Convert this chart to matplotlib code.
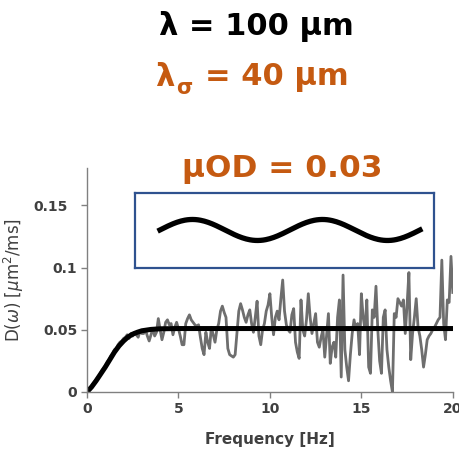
import matplotlib.pyplot as plt
import numpy as np
from matplotlib.transforms import ScaledTranslation

plt.rcParams['font.family'] = ['DejaVu Sans']

ORANGE = '#C55A11'
GREY_TXT = '#404040'

wavelength_um = 100
wavelength_sigma_um = 40
mu_od = 0.03

# measured D(w), one value every 0.1 Hz from 0.1 to 20 Hz
d_meas = [
    0.001, 0.003, 0.006, 0.008, 0.010, 0.012, 0.014, 0.017, 0.019, 0.021,
    0.024, 0.026, 0.029, 0.031, 0.034, 0.035, 0.038, 0.040, 0.041, 0.043,
    0.044, 0.046, 0.043, 0.047, 0.045, 0.048, 0.046, 0.044, 0.049, 0.047,
    0.047, 0.050, 0.045, 0.041, 0.046, 0.051, 0.045, 0.048, 0.059, 0.050,
    0.042, 0.048, 0.056, 0.058, 0.054, 0.055, 0.046, 0.052, 0.056, 0.051,
    0.045, 0.038, 0.038, 0.055, 0.059, 0.062, 0.058, 0.056, 0.054, 0.053,
    0.054, 0.044, 0.035, 0.030, 0.048, 0.040, 0.035, 0.052, 0.046, 0.040,
    0.050, 0.055, 0.065, 0.069, 0.064, 0.060, 0.035, 0.030, 0.029, 0.028,
    0.030, 0.048, 0.065, 0.071, 0.066, 0.060, 0.056, 0.062, 0.066, 0.055,
    0.048, 0.060, 0.073, 0.045, 0.038, 0.050, 0.055, 0.065, 0.070, 0.079,
    0.060, 0.046, 0.060, 0.065, 0.058, 0.075, 0.090, 0.065, 0.054, 0.050,
    0.048, 0.062, 0.067, 0.040, 0.032, 0.027, 0.074, 0.050, 0.045, 0.058,
    0.079, 0.060, 0.047, 0.055, 0.063, 0.040, 0.036, 0.044, 0.050, 0.028,
    0.045, 0.063, 0.023, 0.036, 0.040, 0.028, 0.060, 0.074, 0.012, 0.094,
    0.034, 0.020, 0.009, 0.030, 0.047, 0.058, 0.050, 0.055, 0.030, 0.079,
    0.060, 0.050, 0.074, 0.020, 0.015, 0.066, 0.060, 0.085, 0.050, 0.025,
    0.015, 0.060, 0.066, 0.034, 0.020, 0.009, 0.000, 0.063, 0.060, 0.075,
    0.072, 0.069, 0.074, 0.047, 0.070, 0.096, 0.026, 0.047, 0.060, 0.075,
    0.052, 0.045, 0.034, 0.020, 0.030, 0.042, 0.045, 0.047, 0.050, 0.052,
    0.055, 0.058, 0.060, 0.106, 0.055, 0.042, 0.074, 0.072, 0.109, 0.080,
]
freq = np.linspace(0.1, 20.0, len(d_meas))

# fitted curve
fit_freq = [0, 0.25, 0.5, 0.75, 1.0, 1.25, 1.5, 1.75, 2.0, 2.25, 2.5, 2.75, 3.0, 3.5, 4.0, 5.0, 20]
fit_d = [0, 0.004, 0.009, 0.0145, 0.020, 0.026, 0.032, 0.037, 0.041, 0.0443, 0.0465,
         0.048, 0.0492, 0.0503, 0.0508, 0.051, 0.051]

yticks = [0, 0.05, 0.1, 0.15]
ytick_labels = ['0', '0.05', '0.1', '0.15']
xticks = [0, 5, 10, 15, 20]

fig = plt.figure(figsize=(4.59, 4.53), dpi=100)
ax = fig.add_axes([0.1895, 0.1347, 0.797, 0.4943])

ax.plot(np.concatenate([[0], freq]), np.concatenate([[0], d_meas]), color='#6e6e6e', lw=2.0)
ax.plot(fit_freq, fit_d, color='black', lw=3.6, solid_capstyle='round')

ax.set_xlim(0, 20)
ax.set_ylim(0, 0.18)
ax.set_xticks(xticks)
ax.set_xticklabels([str(t) for t in xticks])
ax.set_yticks(yticks)
ax.set_yticklabels(ytick_labels)
for s in ['top', 'right']:
    ax.spines[s].set_visible(False)
for s in ['left', 'bottom']:
    ax.spines[s].set_color('#808080')
    ax.spines[s].set_linewidth(1.0)
ax.tick_params(direction='out', length=4, width=1, color='#808080',
               labelsize=10, labelcolor=GREY_TXT, pad=3)
for lab in ax.get_xticklabels() + ax.get_yticklabels():
    lab.set_fontweight('bold')
# top label sits a bit further left in the original
top_lab = ax.get_yticklabels()[-1]
top_lab.set_transform(top_lab.get_transform() + ScaledTranslation(-10 / 100, 0, fig.dpi_scale_trans))

ax.set_xlabel('Frequency [Hz]', fontsize=11, fontweight='bold', color=GREY_TXT, labelpad=12)
ax.set_ylabel(r'D($\omega$) [$\mu$m$^2$/ms]', fontsize=12, color=GREY_TXT, labelpad=5)

# headings
fig.text(256 / 459, 1 - 27 / 453, f'λ = {wavelength_um} μm', fontsize=22, fontweight='bold',
         ha='center', va='center', color='black')
fig.text(155 / 459, 1 - 78 / 453, 'λ', fontsize=22, fontweight='bold',
         ha='left', va='center', color=ORANGE)
fig.text(176 / 459, 1 - 88 / 453, 'σ', fontsize=15, fontweight='bold',
         ha='left', va='center', color=ORANGE)
fig.text(205 / 459, 1 - 78 / 453, f'= {wavelength_sigma_um} μm', fontsize=22, fontweight='bold',
         ha='left', va='center', color=ORANGE)
fig.text(282 / 459, 1 - 170 / 453, f'μOD = {mu_od}', fontsize=22.5, fontweight='bold',
         ha='center', va='center', color=ORANGE)

# inset sketch of the modulation
inset = fig.add_axes([135 / 459, 1 - 268 / 453, 299 / 459, 75 / 453])
pos_um = np.linspace(0, 2 * wavelength_um, 200)
inset.plot(pos_um, np.sin(2 * np.pi * pos_um / wavelength_um), color='black', lw=3.8)
inset.set_xlim(-19.2, 210.8)
inset.set_ylim(-3.62, 3.52)
inset.set_xticks([])
inset.set_yticks([])
for s in inset.spines.values():
    s.set_color('#2F528F')
    s.set_linewidth(1.6)

fig.savefig('out.png', dpi=100)
